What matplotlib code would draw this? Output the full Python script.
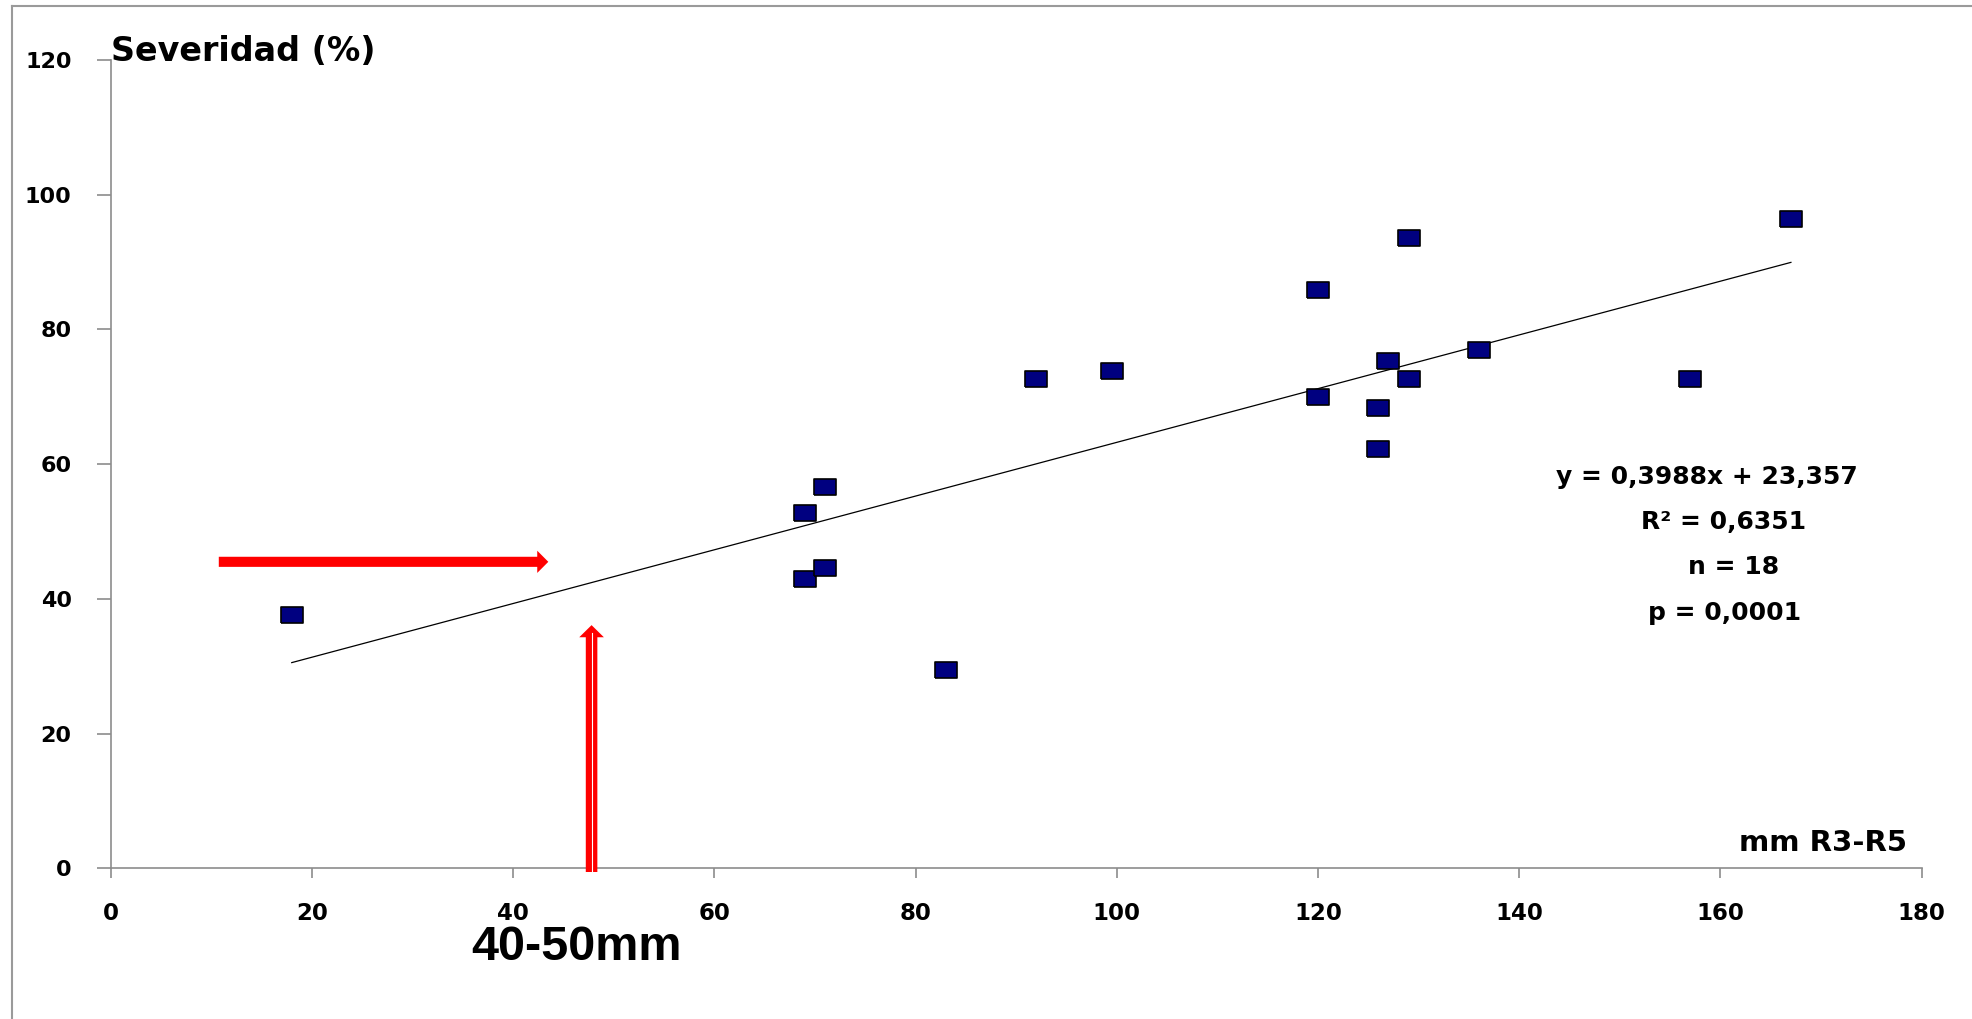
import numpy as np
import matplotlib
matplotlib.use('Agg')
import matplotlib.pyplot as plt
from matplotlib.patches import FancyArrow
from matplotlib.lines import Line2D

# mm R3-R5 vs severidad
mm = [18, 69, 69, 71, 71, 83, 92, 99.5, 120, 120, 126, 126, 127, 129, 129, 136, 157, 167]
sev = [37.6, 52.8, 43.0, 56.6, 44.6, 29.4, 72.6, 73.8, 85.9, 69.9, 68.3, 62.2, 75.3, 93.6, 72.6, 76.9, 72.6, 96.4]

slope = 0.3988
intercept = 23.357
eq_lines = ['y = 0,3988x + 23,357', 'R\u00b2 = 0,6351', 'n = 18', 'p = 0,0001']

xticks = [0, 20, 40, 60, 80, 100, 120, 140, 160, 180]
yticks = [0, 20, 40, 60, 80, 100, 120]

plt.rcParams['font.family'] = ['DejaVu Sans']
plt.rcParams['font.weight'] = 'bold'

fig = plt.figure(figsize=(19.72, 10.19), dpi=100)
ax = fig.add_axes([0.0561, 0.1479, 0.9184, 0.7932])

# rectangular marker (wider than tall)
rect = [(-1.38, -1), (1.38, -1), (1.38, 1), (-1.38, 1), (-1.38, -1)]
ax.plot(mm, sev, linestyle='none', marker=rect, markersize=15.5,
        markerfacecolor='#000080', markeredgecolor='black', markeredgewidth=1.2, zorder=3)

xl = np.array([min(mm), max(mm)])
ax.plot(xl, slope * xl + intercept, color='black', lw=0.9, zorder=2)

ax.set_xlim(0, 180)
ax.set_ylim(0, 120)
ax.set_xticks(xticks)
ax.set_yticks(yticks)
ax.tick_params(axis='x', direction='out', length=7, width=1.2, color='#8c8c8c', labelsize=16.5, pad=17)
ax.tick_params(axis='y', direction='out', length=10, width=1.2, color='#8c8c8c', labelsize=16, pad=18)
for lab in ax.get_xticklabels() + ax.get_yticklabels():
    lab.set_fontweight('bold')
for s in ['top', 'right']:
    ax.spines[s].set_visible(False)
for s in ['left', 'bottom']:
    ax.spines[s].set_color('#8c8c8c')
    ax.spines[s].set_linewidth(1.2)

# red arrows
ax.add_patch(FancyArrow(10.75, 45.5, 32.75, 0, width=1.5, head_width=3.3, head_length=1.1,
                        length_includes_head=True, color='red', lw=0, clip_on=False, zorder=4))
ax.add_patch(FancyArrow(47.8, -0.55, 0, 36.65, width=1.15, head_width=2.45, head_length=1.8,
                        length_includes_head=True, color='red', lw=0, clip_on=False, zorder=4))
ax.plot([47.8, 47.8], [-0.55, 35.0], color='white', lw=0.8, clip_on=False, zorder=5)

fig.text(0.0563, 0.949, 'Severidad (%)', fontsize=24, fontweight='bold', ha='left', va='center')
fig.text(0.967, 0.1727, 'mm R3-R5', fontsize=21, fontweight='bold', ha='right', va='center')

eq_pos = [(0.8656, 0.5319), (0.8742, 0.4877), (0.8793, 0.4436), (0.8747, 0.3984)]
for (px, py), t in zip(eq_pos, eq_lines):
    fig.text(px, py, t, fontsize=18, fontweight='bold', ha='center', va='center')

fig.text(0.2921, 0.0697, '40-50mm', fontsize=35, fontweight='bold', ha='center', va='center',
         family=['Liberation Sans'])

# outer frame
fig.add_artist(Line2D([12 / 1972, 12 / 1972], [0, 1 - 6 / 1019], color='#9a9a9a', lw=1.5))
fig.add_artist(Line2D([12 / 1972, 1], [1 - 6 / 1019, 1 - 6 / 1019], color='#9a9a9a', lw=1.5))

fig.savefig('out.png', dpi=100)
